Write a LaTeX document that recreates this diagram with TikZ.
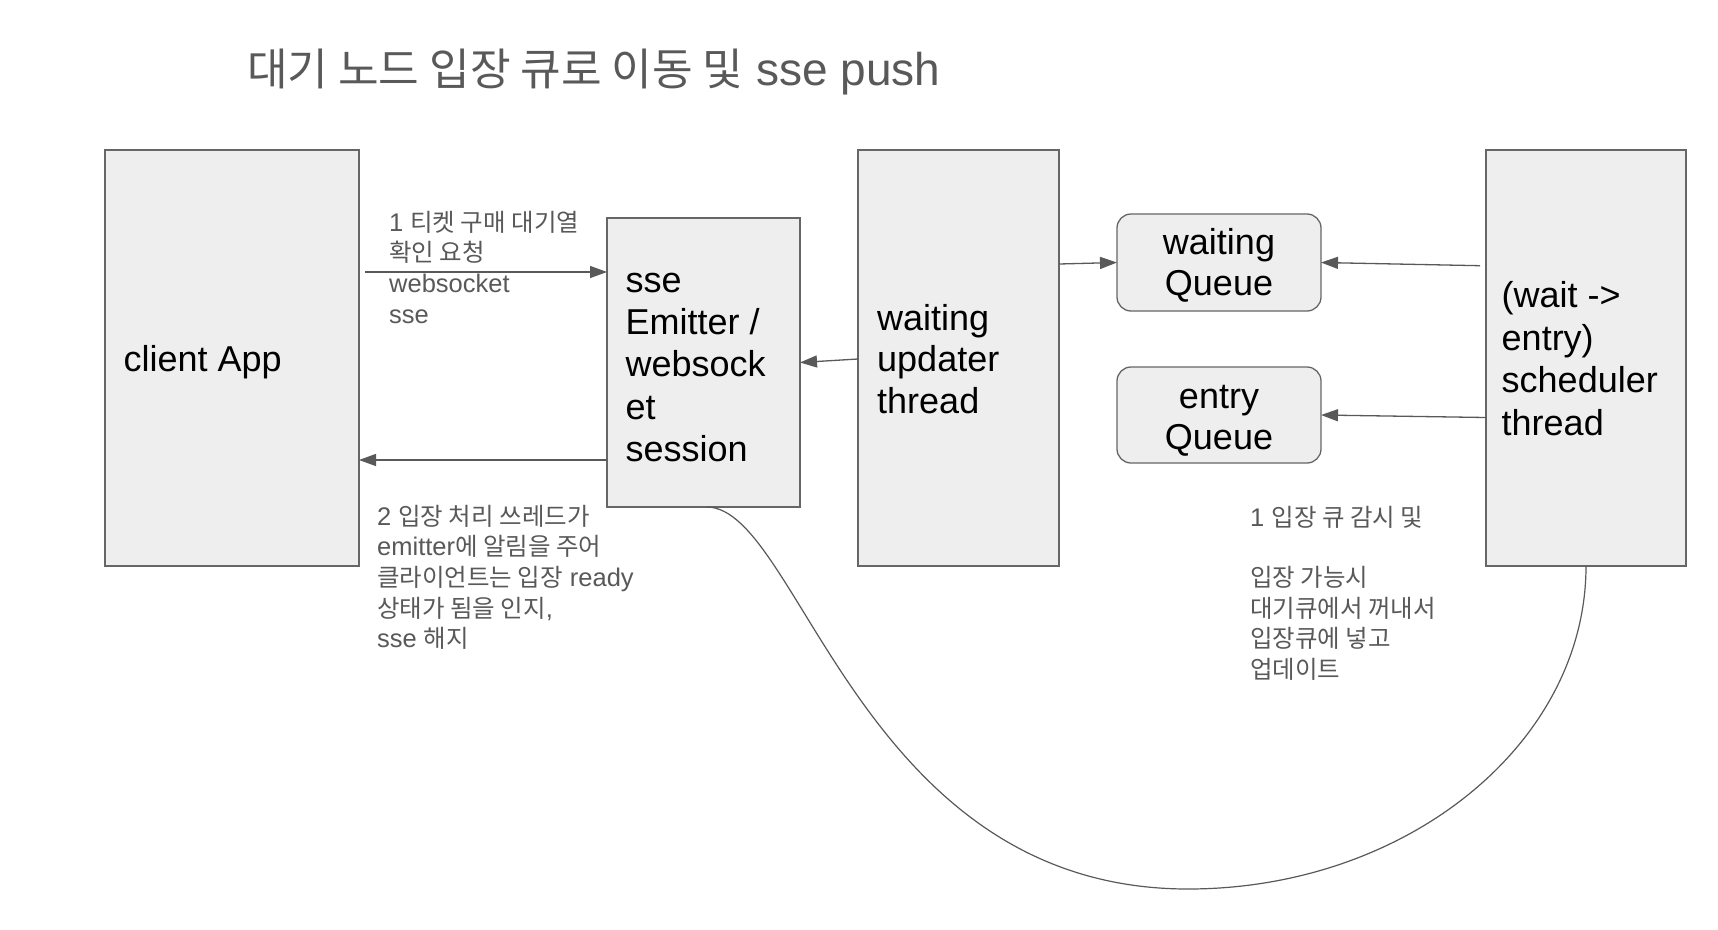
\documentclass[tikz,border=0pt]{standalone}
\usepackage{fontspec}
\setmainfont{Liberation Sans}
\newfontfamily\krfont[Scale=0.96]{Noto Sans CJK KR}
\newcommand\KR[1]{{\krfont #1}}
\usetikzlibrary{arrows.meta}
\definecolor{boxfill}{HTML}{EEEEEE}
\definecolor{boxline}{HTML}{666666}
\definecolor{linegray}{HTML}{595959}
\definecolor{txtgray}{HTML}{595959}
\tikzset{
  box/.style={draw=boxline, fill=boxfill, line width=1.3pt, inner sep=0pt, outer sep=0pt},
  qbox/.style={box, rounded corners=14pt},
  arr/.style={draw=linegray, line width=1.3pt, -{Triangle[length=17pt,width=12pt]}},
  curve/.style={draw=linegray, line width=1.2pt},
  big/.style={anchor=base west, inner sep=0pt, align=left, text=black, font=\fontsize{36}{42.3}\selectfont},
  note/.style={anchor=base west, inner sep=0pt, align=left, text=txtgray, font=\fontsize{25.5}{30.7}\selectfont},
}
\begin{document}
\begin{tikzpicture}[x=1pt,y=-1pt]
\useasboundingbox[fill=white] (0,0) rectangle (1718,929);
% title
\node[anchor=base west, inner sep=0pt, text=txtgray, font=\fontsize{46}{52}\selectfont] (title) at (247,85.5) {\KR{대기 노드 입장 큐로 이동 및} sse push};
% boxes
\node[box, minimum width=254pt, minimum height=416pt] (client) at (232,358) {};
\node[box, minimum width=193pt, minimum height=289pt] (sse) at (703.5,362.5) {};
\node[box, minimum width=201pt, minimum height=416pt] (updater) at (958.5,358) {};
\node[qbox, minimum width=204pt, minimum height=97pt] (waitQ) at (1219,262.5) {};
\node[qbox, minimum width=204pt, minimum height=96pt] (entryQ) at (1219,415) {};
\node[box, minimum width=200pt, minimum height=416pt] (sched) at (1586,358) {};
% box texts (multi-line nodes: base = last line's baseline)
\node[big] (clientT) at (123.5,371.7) {client App};
\node[big] (sseT) at (625.5,461.5) {sse\\Emitter /\\websock\\et\\session};
\node[big, font=\fontsize{36}{41.7}\selectfont] (updT) at (877,413.4) {waiting\\updater\\thread};
\node[big, font=\fontsize{36}{42.8}\selectfont] (schedT) at (1501.5,435.6) {(wait -\textgreater\\entry)\\scheduler\\thread};
\node[big, anchor=base, align=center, font=\fontsize{36}{41}\selectfont] (waitQT) at (1219,295.5) {waiting\\Queue};
\node[big, anchor=base, align=center, font=\fontsize{36}{41}\selectfont] (entryQT) at (1219,449) {entry\\Queue};
% notes
\node[note] (n1) at (389,323.1) {1 \KR{티켓 구매 대기열}\\\KR{확인 요청}\\websocket\\sse};
\node[note] (n2) at (377,647.8) {2 \KR{입장 처리 쓰레드가}\\emitter\KR{에 알림을 주어}\\\KR{클라이언트는 입장} ready\\\KR{상태가 됨을 인지},\\sse \KR{해지}};
\node[note, font=\fontsize{25.5}{30.4}\selectfont] (n3) at (1250,678) {1 \KR{입장 큐 감시 및}\\[30.4pt]\KR{입장 가능시}\\\KR{대기큐에서 꺼내서}\\\KR{입장큐에 넣고}\\\KR{업데이트}};
% connectors
\coordinate (a1s) at (365,272);
\draw[arr] (a1s) -- (a1s -| sse.west);
\coordinate (a2s) at (607,460);
\draw[arr] (a2s) -- (a2s -| client.east);
\draw[arr] ([yshift=-1pt]updater.west) -- (sse.east);
\coordinate (a4s) at (1059,264);
\draw[arr] (a4s) -- (waitQ.west);
\coordinate (a5s) at (1480,265.7);
\draw[arr] (a5s) -- (waitQ.east);
\coordinate (a6s) at (1486,417.5);
\draw[arr] (a6s) -- (entryQ.east);
\coordinate (bot) at (1188,889);
\draw[curve] ([xshift=3.5pt]sse.south) .. controls (800,508) and (860,889) .. (bot) .. controls (1406,889) and (1586,744) .. (sched.south);
\end{tikzpicture}
\end{document}
